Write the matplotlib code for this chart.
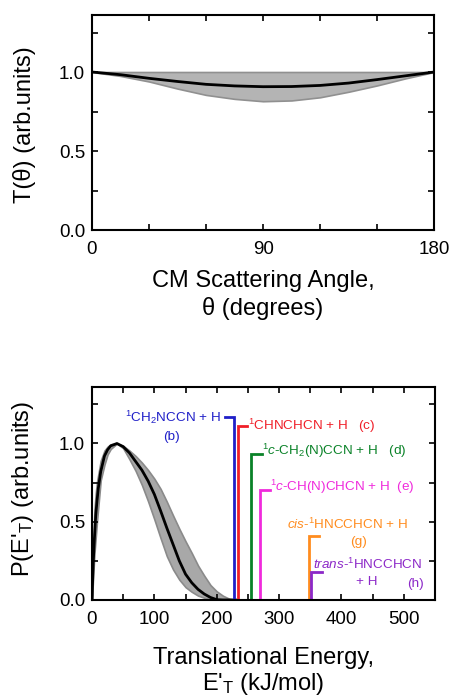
import matplotlib
matplotlib.use("Agg")
import matplotlib.pyplot as plt
from matplotlib.ticker import MultipleLocator

plt.rcParams['font.family'] = ['Liberation Sans', 'DejaVu Sans']
plt.rcParams['mathtext.fontset'] = 'custom'
plt.rcParams['mathtext.rm'] = 'Liberation Sans'
plt.rcParams['mathtext.it'] = 'Liberation Sans:italic'

# T(theta) panel
theta = [0, 15, 30, 45, 60, 75, 90, 105, 120, 135, 150, 165, 180]
t_best = [1.0, .983, .96, .94, .922, .912, .907, .908, .915, .93, .952, .976, 1.0]
t_low = [1.0, .975, .94, .895, .855, .83, .815, .82, .84, .875, .915, .96, 1.0]
t_high = [1.0] * len(theta)

# P(E'T) panel
energy = [0, 2, 4, 6, 8, 10, 14, 20, 25, 30, 40, 50, 60, 70, 80, 90, 100, 110,
          120, 130, 140, 150, 160, 170, 180, 190, 200, 210, 220, 230]
p_best = [0, .24, .40, .54, .63, .71, .82, .92, .96, .985, 1.0, .98, .94, .885, .83,
          .76, .675, .57, .46, .355, .25, .165, .11, .068, .038, .016, .002, 0, 0, 0]
p_high = [0, .34, .58, .68, .754, .80, .89, .955, .98, .995, 1.0, .985, .955, .92, .878,
          .83, .775, .71, .628, .54, .455, .375, .30, .22, .155, .095, .055, .027, .008, 0]
p_low = [0, .16, .30, .40, .50, .59, .765, .865, .93, .965, 1.0, .97, .90, .825, .735,
         .63, .515, .395, .28, .195, .13, .082, .052, .028, .014, .004, 0, 0, 0, 0]

# energetics of the channels (b)..(h)
chan_energy = [228, 234.5, 255, 269, 348, 351]
chan_height = [1.17, 1.11, 0.93, 0.70, 0.41, 0.18]
chan_colors = ['#1f1fc8', '#f01e28', '#0a8228', '#f02adc', '#ff8c1e', '#8c28c8']
stub = [-14, 14, 17, 16, 16, 17]

fig = plt.figure(figsize=(4.52, 7.0), dpi=100)
ax1 = fig.add_axes([0.2035, 0.6714, 0.757, 0.307])
ax2 = fig.add_axes([0.2035, 0.1429, 0.759, 0.304])

lab = 17

ax1.fill_between(theta, t_low, t_high, color='#b4b4b4', edgecolor='#909090', lw=1.2)
ax1.plot(theta, t_best, color='black', lw=2)
ax1.set_xlim(0, 180)
ax1.set_ylim(0, 1.36)
ax1.xaxis.set_major_locator(MultipleLocator(90))
ax1.xaxis.set_minor_locator(MultipleLocator(30))
ax1.yaxis.set_major_locator(MultipleLocator(0.5))
ax1.yaxis.set_minor_locator(MultipleLocator(0.25))
ax1.set_xlabel("CM Scattering Angle,\nθ (degrees)", fontsize=lab, linespacing=1.3)
ax1.set_ylabel("T(θ) (arb.units)", fontsize=lab)
ax1.xaxis.set_label_coords(0.5, -0.184)
ax1.yaxis.set_label_coords(-0.163, 0.49)

ax2.fill_between(energy, p_low, p_high, color='#a8a8a8', edgecolor='#8a8a8a', lw=1.2)
ax2.plot(energy, p_best, color='black', lw=2)
for e, h, c, s in zip(chan_energy, chan_height, chan_colors, stub):
    ax2.plot([e + s, e, e], [h, h, 0], color=c, lw=2, solid_joinstyle='miter')
ax2.set_xlim(0, 550)
ax2.set_ylim(0, 1.36)
ax2.xaxis.set_major_locator(MultipleLocator(100))
ax2.xaxis.set_minor_locator(MultipleLocator(50))
ax2.yaxis.set_major_locator(MultipleLocator(0.5))
ax2.yaxis.set_minor_locator(MultipleLocator(0.25))
ax2.set_xlabel("Translational Energy,\nE'$_\\mathregular{T}$ (kJ/mol)", fontsize=lab, linespacing=1.12)
ax2.set_ylabel("P(E'$_\\mathregular{T}$) (arb.units)", fontsize=lab)
ax2.xaxis.set_label_coords(0.5, -0.22)
ax2.yaxis.set_label_coords(-0.163, 0.52)

fs = 9.7
ax2.text(207, 1.17, "$^1$CH$_2$NCCN + H", color=chan_colors[0], fontsize=fs, ha='right', va='center')
ax2.text(128, 1.04, "(b)", color=chan_colors[0], fontsize=fs, ha='center', va='center')
ax2.text(250, 1.11, "$^1$CHNCHCN + H   (c)", color=chan_colors[1], fontsize=fs, va='center')
ax2.text(272, 0.95, "$^1\\mathit{c}$-CH$_2$(N)CCN + H   (d)", color=chan_colors[2], fontsize=fs, va='center')
ax2.text(285, 0.72, "$^1\\mathit{c}$-CH(N)CHCN + H  (e)", color=chan_colors[3], fontsize=fs, va='center')
ax2.text(312, 0.48, "$\\mathit{cis}$-$^1$HNCCHCN + H", color=chan_colors[4], fontsize=fs, va='center')
ax2.text(427, 0.37, "(g)", color=chan_colors[4], fontsize=fs, ha='center', va='center')
ax2.text(355, 0.23, "$\\mathit{trans}$-$^1$HNCCHCN", color=chan_colors[5], fontsize=fs, va='center')
ax2.text(440, 0.117, "+ H", color=chan_colors[5], fontsize=fs, ha='center', va='center')
ax2.text(518, 0.10, "(h)", color=chan_colors[5], fontsize=fs, ha='center', va='center')

for ax in (ax1, ax2):
    ax.tick_params(which='both', direction='in', top=True, right=True,
                   length=4.5, width=1.2, labelsize=13.5)
    ax.tick_params(axis='x', which='both', pad=8)
    ax.tick_params(axis='y', which='both', pad=5)
    for sp in ax.spines.values():
        sp.set_linewidth(1.5)
    ax.yaxis.set_major_formatter(plt.FormatStrFormatter('%.1f'))

fig.savefig("out.png", dpi=100)
